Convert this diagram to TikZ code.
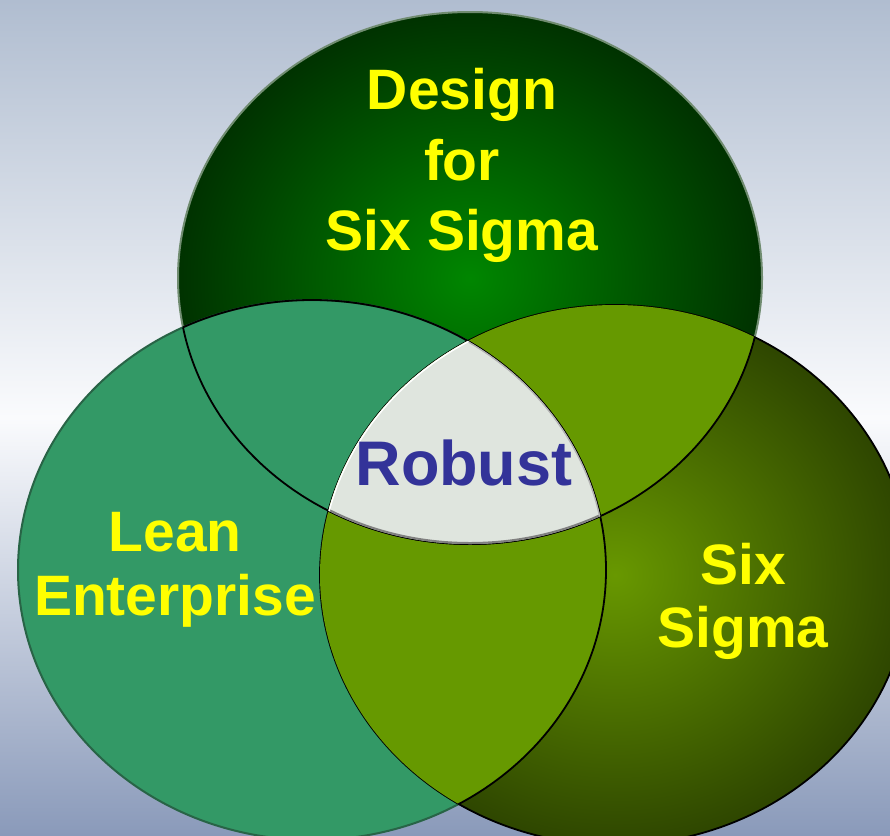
\documentclass[tikz,border=0pt]{standalone}
\usepackage{fontspec}
\setmainfont{Liberation Sans}

\definecolor{bgtop}{RGB}{176,189,208}
\definecolor{bgmid}{RGB}{250,251,253}
\definecolor{bgbot}{RGB}{138,154,186}
\definecolor{dfssin}{RGB}{0,134,0}
\definecolor{dfssout}{RGB}{0,50,0}
\definecolor{dfssrim}{RGB}{112,140,112}
\definecolor{leangreen}{RGB}{51,153,102}
\definecolor{leanrim}{RGB}{40,100,70}
\definecolor{sigmain}{RGB}{104,152,0}
\definecolor{sigmaout}{RGB}{46,70,0}
\definecolor{limegreen}{RGB}{102,153,0}
\definecolor{robustgrey}{RGB}{223,229,222}
\definecolor{robustblue}{RGB}{51,51,153}
\definecolor{vennyellow}{RGB}{255,255,0}

% the three sets
\newcommand\dfssoval{(470,278) ellipse [x radius=292pt, y radius=266pt]}
\newcommand\leanoval{(312,570) ellipse [x radius=294pt, y radius=270pt]}
\newcommand\sigmaoval{(615,575) ellipse [x radius=295pt, y radius=270pt]}

\begin{document}
\begin{tikzpicture}[x=1pt, y=-1pt,
                    edge line/.style={draw=black, line width=1.8pt},
                    set label/.style={text=vennyellow, inner sep=0pt, align=center,
                                      font=\bfseries\fontsize{57}{64}\selectfont}]

  \useasboundingbox (0,0) rectangle (890,835);
  \clip (0,0) rectangle (890,835);
  \shade[top color=bgtop, bottom color=bgbot, middle color=bgmid] (0,0) rectangle (890,835);

  % sets
  \shade[inner color=dfssin, outer color=dfssout] \dfssoval;
  \draw[dfssrim, line width=2pt] \dfssoval;
  \fill[leangreen] \leanoval;
  \draw[leanrim, line width=2pt] \leanoval;
  \shade[inner color=sigmain, outer color=sigmaout] \sigmaoval;
  \draw[edge line] \sigmaoval;

  % overlaps with Six Sigma
  \begin{scope}
    \clip \sigmaoval;
    \fill[limegreen] \dfssoval;
    \fill[limegreen] \leanoval;
    \draw[edge line] \dfssoval;
    \draw[edge line] \leanoval;
  \end{scope}
  \begin{scope}
    \clip \leanoval;
    \draw[edge line] \dfssoval;
  \end{scope}
  \begin{scope}
    \clip \dfssoval;
    \draw[edge line] \leanoval;
  \end{scope}

  % common part
  \begin{scope}
    \clip \dfssoval;
    \clip \leanoval;
    \clip \sigmaoval;
    \fill[robustgrey] \dfssoval;
    \draw[gray, line width=4pt] \dfssoval;
    \draw[gray!60, line width=2.5pt] \leanoval;
    \draw[white, line width=3pt] \sigmaoval;
  \end{scope}

  \node[set label, anchor=north, font=\bfseries\fontsize{57}{70.5}\selectfont] (dfss) at (462,68) {Design\\for\\Six Sigma};
  \node[set label, anchor=north] (lean) at (175,512) {Lean\\Enterprise};
  \node[set label, anchor=north, font=\bfseries\fontsize{57}{63}\selectfont] (sigma) at (743,543) {Six\\Sigma};
  \node[set label, anchor=base, text=robustblue, font=\bfseries\fontsize{63}{70}\selectfont] (robust) at (464,485) {Robust};

\end{tikzpicture}
\end{document}
